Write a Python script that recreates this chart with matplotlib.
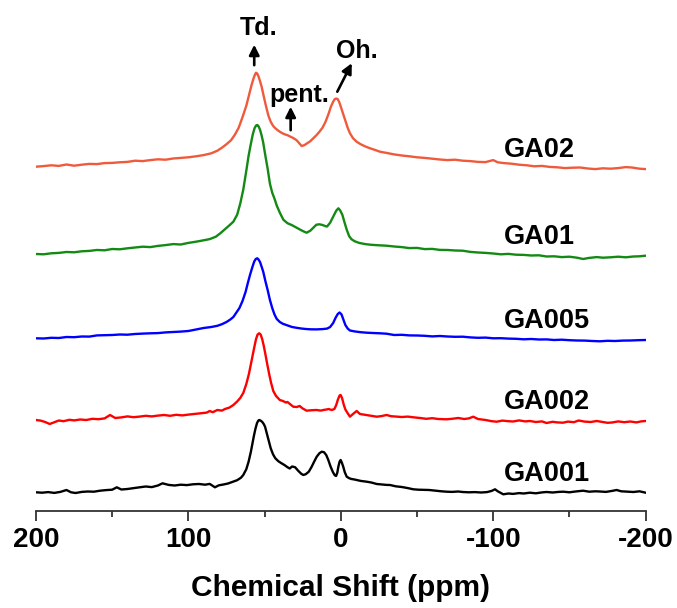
import matplotlib
matplotlib.use("Agg")
import matplotlib.pyplot as plt
from matplotlib.ticker import MultipleLocator

# (chemical shift in ppm, intensity in a.u.)
ga02 = [(200, 2), (195, 2.6), (190, 3.4), (185, 2.8), (180, 4.2), (175, 3.0), (170, 4.0), (165, 4.8),
        (160, 4.6), (155, 5.6), (150, 5.8), (145, 6.4), (140, 6.8), (135, 8.0), (130, 7.6), (125, 8.6),
        (120, 9.4), (115, 9.0), (110, 10.2), (105, 10.8), (100, 11.4), (95, 12.4), (90, 13.6), (85, 15.4),
        (81, 18), (78, 21), (75, 24.5), (72, 28.5), (69.5, 34), (67, 41), (64.5, 51.5), (62, 63), (60, 75),
        (58.5, 84), (57.2, 90.5), (56.2, 94.5), (55.6, 96), (54.8, 95), (53.8, 91.5), (52.8, 86.5),
        (51.9, 81.7), (50.5, 72), (49, 62), (47.5, 53), (46, 47), (44.5, 43), (43, 40.5), (41, 38),
        (39, 36), (37, 34.5), (35, 33.5), (33, 32), (31, 30.5), (29, 28.5), (27, 25), (25.7, 22.7),
        (24, 23.5), (22, 25.5), (20, 27.5), (18, 30.5), (16, 33.5), (14, 37), (12, 41), (10, 47), (8, 55),
        (6.5, 62), (5, 67), (4, 69.5), (3, 70.2), (2, 69.5), (1, 66.5), (0, 62), (-1.5, 55), (-3, 48),
        (-4.5, 41), (-6, 35.5), (-8, 30.5), (-10.4, 27), (-13, 24.5), (-16, 22.3), (-19, 20.5), (-22, 19),
        (-25.7, 17), (-30, 15.8), (-35, 14.3), (-40, 13.2), (-45, 12.4), (-50, 11.4), (-55, 10.8),
        (-60, 10.0), (-65, 9.2), (-70, 8.6), (-75, 9.0), (-80, 8.0), (-85, 7.6), (-90, 6.8), (-95, 6.6),
        (-100, 8.6), (-103, 6.4), (-107, 5.6), (-112, 5.0), (-117, 4.0), (-122, 3.4), (-127, 2.4),
        (-132, 2.8), (-137, 1.8), (-142, 1.4), (-147, 0.6), (-152, 1.0), (-157, 1.2), (-162, 0.2),
        (-167, -0.4), (-172, 0.4), (-177, 0.0), (-182, 0.6), (-187, 1.6), (-191, 1.2), (-196, 0.0),
        (-200, -0.4)]

ga01 = [(200, 1.7), (195, 1.4), (190, 2.4), (185, 2.8), (180, 3.7), (175, 3.4), (170, 4.4), (165, 4.8),
        (160, 5.7), (155, 5.4), (150, 6.7), (145, 6.4), (140, 7.4), (135, 8.2), (130, 9.0), (125, 8.6),
        (120, 9.8), (115, 10.6), (110, 11.6), (105, 11.2), (100, 12.8), (95, 14.0), (90, 15.4), (86, 16.6),
        (82, 19), (79, 22.5), (76, 26.5), (73, 30.5), (70.5, 34), (68, 41), (66, 52), (64, 66), (62, 85),
        (60.5, 100), (59, 112), (57.8, 121), (56.6, 127.5), (55.6, 130.2), (54.8, 130.7), (54, 129.5),
        (53, 126), (52, 120.5), (50.9, 113), (49.5, 100), (48, 87), (46.5, 72), (45, 63), (43.5, 57),
        (42, 50), (40, 43), (37.7, 36), (35, 32.5), (32, 30.5), (29, 28), (26, 25.5), (24, 24),
        (22.4, 23), (20, 25), (18, 28), (16, 31), (14, 31.4), (12, 30.7), (10, 29.5), (9, 29.2), (7, 33),
        (5, 39), (3, 45), (1.6, 47.4), (0.5, 45.5), (-1, 41), (-2.5, 33), (-4, 25.5), (-5.5, 19.5),
        (-7, 16.5), (-9, 14.5), (-12, 12.8), (-16, 11.6), (-20, 10.9), (-25, 10.4), (-30, 10.0),
        (-35, 9.2), (-40, 8.6), (-45, 7.6), (-50, 7.8), (-55, 6.6), (-60, 6.8), (-65, 5.8), (-70, 5.7),
        (-75, 5.2), (-80, 5.0), (-85, 3.8), (-90, 3.2), (-95, 2.8), (-100, 2.2), (-105, 1.4), (-110, 1.8),
        (-115, 1.0), (-120, 0.8), (-125, 0.2), (-130, 0.4), (-135, -0.8), (-140, -0.6), (-145, -1.4),
        (-150, -1.0), (-155, -2.0), (-159, -3.3), (-163, -2.2), (-168, -1.4), (-172, -2.0),
        (-177, -1.6), (-182, -1.0), (-187, -1.6), (-192, -0.8), (-196, -0.6), (-200, 0)]

ga005 = [(200, 1.7), (195, 1.5), (190, 2.2), (185, 2.0), (180, 3.0), (175, 2.8), (170, 3.5), (165, 3.4),
         (160, 4.6), (155, 4.8), (150, 5.0), (145, 5.5), (140, 5.3), (135, 6.0), (130, 6.4), (125, 6.7),
         (120, 6.9), (115, 7.6), (110, 8.0), (105, 8.4), (100, 9.0), (95, 10.5), (90, 12.0), (85, 13.0),
         (81, 14.2), (78, 15.8), (75, 18), (72.5, 20.5), (70.5, 23), (68.5, 27.5), (66.5, 32), (64.5, 39),
         (62.5, 48), (61, 57), (59.5, 65.5), (58, 73), (56.8, 78.5), (55.8, 81), (54.8, 81.7), (54, 80.5),
         (53, 78), (52, 73.5), (50.9, 68.3), (49.5, 59), (48, 50), (46.5, 40), (45, 32), (43.5, 25.5),
         (42, 21), (40, 18), (38, 16.2), (35, 14.6), (32, 13), (29, 12.2), (26, 11.5), (23, 11.0),
         (20, 10.7), (16, 10.6), (12, 10.9), (9, 11.4), (7, 13), (5, 17), (3.5, 22), (2, 26), (0.8, 27.5),
         (-0.5, 25.5), (-1.8, 20), (-3, 15), (-4.5, 11.5), (-6, 9.5), (-9, 8.6), (-13, 7.8), (-17, 7.3),
         (-21, 7.0), (-25.7, 6.7), (-30, 6.3), (-35, 5.0), (-40, 5.2), (-45, 4.6), (-50, 4.5),
         (-55, 4.2), (-60, 3.6), (-65, 4.0), (-70, 3.5), (-75, 3.2), (-80, 3.3), (-85, 2.6), (-90, 2.2),
         (-95, 2.4), (-100, 1.7), (-105, 1.8), (-110, 1.4), (-115, 1.2), (-120, 0.7), (-125, 1.0),
         (-130, 0.5), (-135, 0.6), (-140, 0.0), (-145, 0.3), (-150, -0.2), (-155, -0.5), (-160, -0.6),
         (-165, -1.0), (-170, -1.3), (-175, -0.8), (-180, -1.0), (-185, -0.6), (-190, -0.5),
         (-195, -0.2), (-200, 0)]

ga002 = [(200, 1), (197, 0.4), (194, -1.0), (191, -3.0), (188, -1.2), (185, 0.5), (182, -0.2), (178, 1.2),
         (175, 0.6), (171, 1.5), (167, 1.0), (163, 2.2), (159, 1.8), (155, 2.6), (151.4, 6), (148, 3.0),
         (144, 3.6), (140, 4.6), (136, 3.8), (132, 4.4), (128, 5.2), (124, 4.6), (120, 5.4), (116, 6.0),
         (112, 5.2), (108, 6.2), (104, 5.6), (100, 6.4), (96, 7.0), (92, 7.7), (88, 8.4), (86, 10),
         (84, 8.8), (81, 11), (78, 10.4), (76, 12), (73, 13.5), (70.5, 16), (68, 19.5), (66, 23), (64, 28),
         (62, 37), (60.3, 47), (59, 57), (57.8, 66), (56.6, 75), (55.6, 82), (54.6, 86.5), (53.5, 87.7),
         (52.6, 86.5), (51.6, 82), (50.6, 75.5), (49.5, 67), (48.3, 57), (47, 47), (45.8, 38.5),
         (44.3, 30), (42.5, 25), (40, 21), (38, 20), (36, 18.5), (35, 19), (33, 16.5), (31.2, 14.3),
         (29, 14.0), (27, 15), (25, 12.5), (22.4, 10.3), (19, 10.8), (16, 11), (13, 10.4), (11.5, 11),
         (9, 11.6), (8, 12), (6, 11), (4.2, 12), (3, 16), (2, 21), (0.8, 25.5), (0.1, 26), (-0.8, 23),
         (-2, 16), (-3, 11.5), (-4, 9), (-6, 4.3), (-8, 7), (-10.4, 10), (-12.6, 7), (-15, 6.4),
         (-17, 6), (-20, 5.2), (-23.6, 4.3), (-27, 5.0), (-30, 6), (-33, 4.8), (-36, 4.5), (-40, 4.0),
         (-44, 4.4), (-47.6, 3.7), (-52, 3.0), (-56, 2.2), (-60, 2.8), (-64, 2.0), (-69.5, 1.7),
         (-73, 2.2), (-77, 3), (-81, 2.0), (-84, 2.6), (-86.9, 4.3), (-90, 2.0), (-95, 1), (-99, -0.2),
         (-102.3, -0.7), (-106, 0.4), (-110, -0.2), (-113, -0.5), (-117, 0.6), (-121, -0.4), (-124, 0),
         (-128, -1.0), (-132, -0.4), (-135, -2), (-139, -0.8), (-142, -1.4), (-145.8, -1.7),
         (-149, -0.6), (-153, -1.2), (-156, 0.5), (-160, -0.6), (-164, -1.0), (-167.9, 0),
         (-171, -0.8), (-175, -1.8), (-178, -1.5), (-182, -0.4), (-186, -1.2), (-190, -0.5),
         (-194, -1.4), (-197, -0.4), (-200, 0)]

ga001 = [(200, 0.4), (196, 0.0), (192, 0.6), (188, -0.2), (184, 0.8), (180, 2.7), (177, 0.4), (174, -0.3),
         (170, 0.8), (166, 1.2), (162, 1.0), (158, 2.0), (154, 2.6), (150, 3.0), (147, 5.4), (144, 3.2),
         (140, 3.7), (136, 4.6), (132, 5.4), (128, 6.2), (124, 5.6), (120, 7.2), (117, 9.4), (113, 7.8),
         (109, 7.2), (105, 8.0), (101, 7.6), (97, 8.4), (93, 8.7), (89, 8.0), (86, 8.8), (82.6, 5.4),
         (80, 7.4), (77, 8.2), (74, 9.2), (71, 10.8), (68, 12.5), (65.5, 15), (64, 17.7), (62, 23.5),
         (60.5, 31), (59, 41), (58, 49), (57, 57), (56, 64), (55, 69.5), (54.2, 72), (53.5, 72.7),
         (52.5, 72), (51.5, 70.7), (50.5, 68.5), (49.7, 66), (48.5, 59), (47.2, 51), (46, 44.5),
         (44.5, 38.5), (43, 34.5), (41, 31.5), (39, 29.5), (37, 27.7), (35, 25.5), (33.5, 24.2),
         (32, 26.2), (30, 25.5), (28, 22), (26, 19), (24.6, 17.7), (23, 18.5), (21, 21), (19.1, 26),
         (17.5, 31), (15.8, 36), (14, 39.5), (12.5, 41), (11, 40.5), (9.5, 37.5), (8.2, 32.7),
         (6.8, 26.5), (5.3, 21), (4, 17.5), (3.1, 16.7), (2.3, 20), (1.6, 26), (0.8, 31), (0.1, 32.7),
         (-0.7, 30), (-1.6, 26), (-2.6, 20.5), (-3.9, 16), (-5.5, 14.5), (-7, 13.7), (-9, 13.2),
         (-10.4, 12.7), (-13, 11.8), (-17, 11), (-20, 10.2), (-23.6, 8.7), (-27, 8.2), (-30, 7.8),
         (-32.3, 7.7), (-36, 6.4), (-40, 5.7), (-44, 4.6), (-47.6, 3.4), (-51, 3.0), (-55, 2.8),
         (-58, 2.7), (-62, 2.0), (-66, 1.4), (-69.5, 1), (-73, 0.8), (-77, 1.2), (-80, 0.7), (-84, 0.4),
         (-88, 0.6), (-92, 0.2), (-96, 0.6), (-99, 1.8), (-101.2, 3.4), (-103, 1.4), (-106.6, -1.6),
         (-110, -0.8), (-113, -1.2), (-117, -0.4), (-120, -0.8), (-124, 0), (-128, -0.6), (-132, 0.3),
         (-135, 0.7), (-139, 0.2), (-143, 0.8), (-146, 1), (-150, 0.4), (-154, 1.2), (-159, 2),
         (-163, 1.0), (-167, 1.4), (-170, 1.2), (-174, 0.8), (-178, 1.8), (-181, 2.7), (-184, 1.4),
         (-188, 1.0), (-192, 0.7), (-196, 1.4), (-200, 0)]

samples = ['GA02', 'GA01', 'GA005', 'GA002', 'GA001']
spectra = [ga02, ga01, ga005, ga002, ga001]
offsets = [342, 255, 170.7, 89.7, 18]
colors = ['#f05a3c', '#138a13', '#0000ff', '#ff0000', '#000000']

plt.rcParams['font.family'] = ['Liberation Sans', 'DejaVu Sans']
plt.rcParams['font.weight'] = 'bold'
plt.rcParams['axes.unicode_minus'] = False

fig = plt.figure(figsize=(6.77, 6.08), dpi=100)
ax = fig.add_axes([36 / 677, (608 - 510.7) / 608, 609.6 / 677, 510.7 / 608])

for name, spec, off, c in zip(samples, spectra, offsets, colors):
    x = [p[0] for p in spec]
    y = [p[1] + off for p in spec]
    ax.plot(x, y, color=c, lw=1.7)
    ax.text(-107, off + 12, name, fontsize=19.5, fontweight='bold', ha='left', va='baseline')

# peak labels with arrows
arrow = dict(arrowstyle='-|>', color='k', lw=1.9, mutation_scale=15, shrinkA=0, shrinkB=0)
ax.text(53.7, 475.7, 'Td.', fontsize=18, fontweight='bold', ha='center', va='baseline')
ax.annotate('', xy=(56.8, 466), xytext=(56.8, 445.5), arrowprops=arrow)
ax.text(27.4, 409, 'pent.', fontsize=18, fontweight='bold', ha='center', va='baseline')
ax.annotate('', xy=(32.9, 404), xytext=(32.9, 380.5), arrowprops=arrow)
ax.text(-10.8, 452.4, 'Oh.', fontsize=18, fontweight='bold', ha='center', va='baseline')
ax.annotate('', xy=(-7.2, 447.5), xytext=(2.3, 419), arrowprops=arrow)

ax.set_xlim(200, -200)
ax.set_ylim(0, 510.7)
ax.xaxis.set_major_locator(MultipleLocator(100))
ax.xaxis.set_minor_locator(MultipleLocator(50))
ax.set_yticks([])
for s in ['left', 'right', 'top']:
    ax.spines[s].set_visible(False)
ax.spines['bottom'].set_linewidth(1.3)
ax.spines['bottom'].set_color('#333333')
ax.tick_params(axis='x', which='major', length=7, width=1.3, color='#333333',
               labelsize=20, pad=5)
ax.tick_params(axis='x', which='minor', length=4, width=1.3, color='#333333')
for lab in ax.get_xticklabels():
    lab.set_fontweight('bold')
ax.set_xlabel('Chemical Shift (ppm)', fontsize=21.5, fontweight='bold', labelpad=15)

fig.savefig('out.png', dpi=100)
